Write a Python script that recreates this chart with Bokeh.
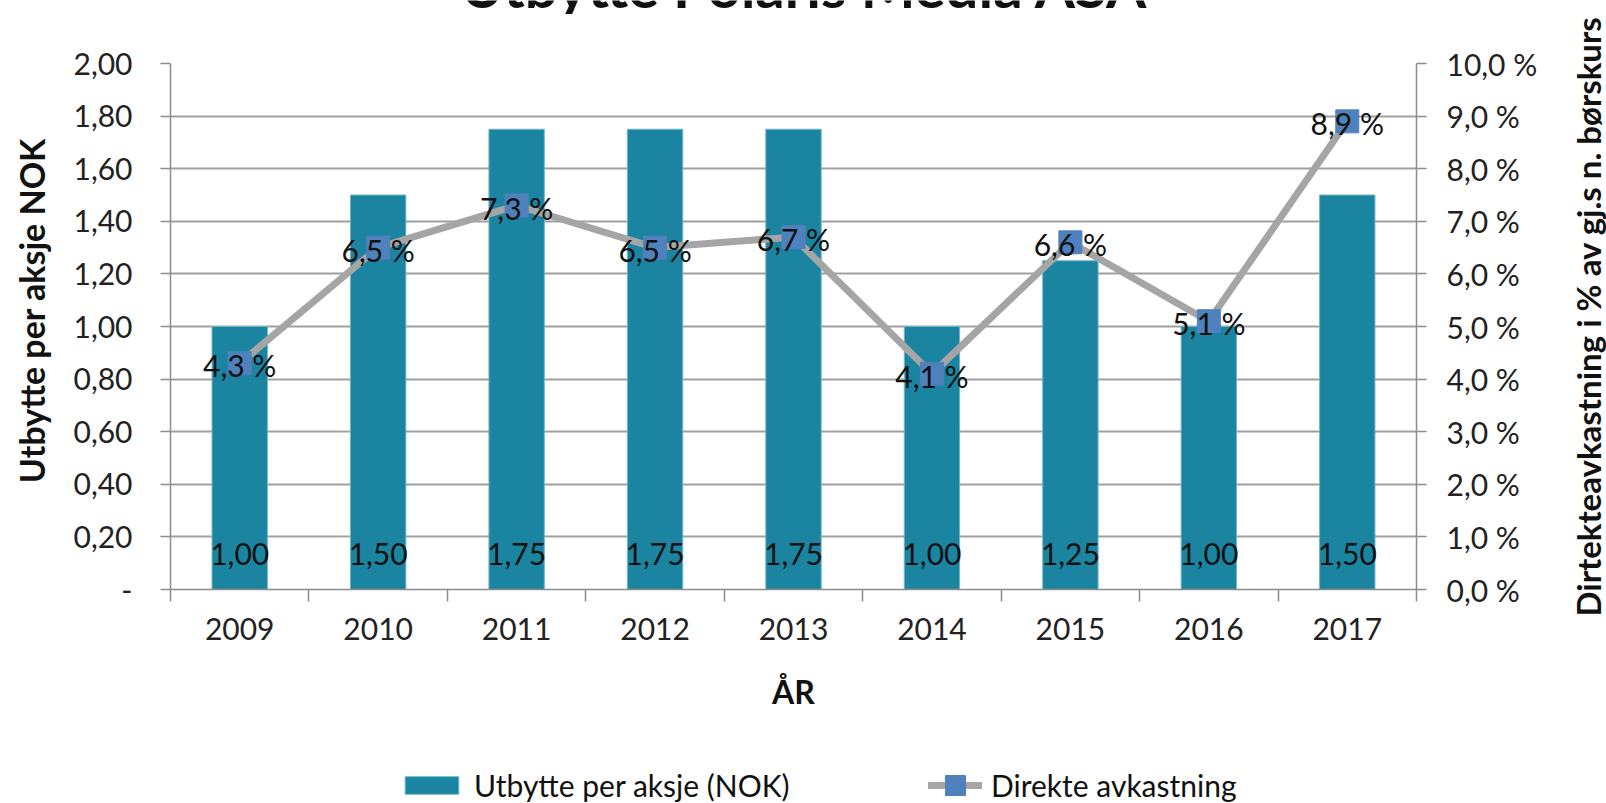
import math
from bokeh.plotting import figure
from bokeh.layouts import column, row
from bokeh.models import (ColumnDataSource, Range1d, LinearAxis, FixedTicker,
                          CustomJSTickFormatter, Legend, LegendItem, Label)
from bokeh.core.properties import value
from bokeh.embed import file_html
from bokeh.resources import INLINE

# ---- data ----
years = ["2009", "2010", "2011", "2012", "2013", "2014", "2015", "2016", "2017"]
dividend = [1.00, 1.50, 1.75, 1.75, 1.75, 1.00, 1.25, 1.00, 1.50]
yield_pct = [4.3, 6.5, 7.3, 6.5, 6.7, 4.1, 6.6, 5.1, 8.9]
left_ticks = [0, 0.2, 0.4, 0.6, 0.8, 1.0, 1.2, 1.4, 1.6, 1.8, 2.0]
right_ticks = [0, 1, 2, 3, 4, 5, 6, 7, 8, 9, 10]

title_text = "Utbytte Polaris Media ASA"
left_title = "Utbytte per aksje NOK"
right_title = "Dirtekteavkastning i % av gj.s n. børskurs"
x_title = "ÅR"
bar_name = "Utbytte per aksje (NOK)"
line_name = "Direkte avkastning"

FONT = "Lato"
BAR_COLOR = "#1B84A0"
BAR_EDGE = "#6FB6CB"
LINE_COLOR = "#A5A5A5"
MARK_COLOR = "#4F81BD"
GRID = "#A0A0A0"
AXIS = "#8C8C8C"
TXT = "#111111"

# ---- layout (pixels, page coordinates) ----
W = 1606
W_LEFT = 60           # strip holding the left axis title
W_RIGHT = 40          # strip holding the right axis title
W_MAIN = W - W_LEFT - W_RIGHT
H_TITLE = 14          # strip holding the (cut-off) title
H_MAIN = 726
H_LEG = 63
FRAME_LEFT, FRAME_RIGHT = 170, 1416
FRAME_TOP, FRAME_BOTTOM = 63, 589
MAIN_BOTTOM = H_TITLE + H_MAIN

xs = [i + 0.5 for i in range(len(years))]
src = ColumnDataSource(dict(
    x=xs, year=years, div=dividend, pct=yield_pct,
    div_lbl=[f"{v:.2f}".replace(".", ",") for v in dividend],
    pct_lbl=[f"{v:.1f} %".replace(".", ",") for v in yield_pct],
))

def strip(width, height, left=0, right=0):
    f = figure(width=width, height=height, output_backend="svg", toolbar_location=None,
               x_range=Range1d(0, 1), y_range=Range1d(10, 11),
               x_axis_type=None, y_axis_type=None, frame_align=False,
               min_border_left=left, min_border_right=right,
               min_border_top=0, min_border_bottom=0)
    f.outline_line_color = None
    f.xgrid.grid_line_color = None
    f.ygrid.grid_line_color = None
    return f

# ---- title strip (title is cut off at the top edge, as in the source image) ----
t = strip(W, H_TITLE, FRAME_LEFT, W - FRAME_RIGHT)
t.add_layout(Label(x=804 - FRAME_LEFT, y=H_TITLE + 15, x_units="screen", y_units="screen",
                   text=title_text, text_align="center", text_baseline="alphabetic",
                   text_font=FONT, text_font_style="bold", text_font_size="58px",
                   text_color=TXT))

# ---- main chart ----
p = figure(width=W_MAIN, height=H_MAIN, output_backend="svg", toolbar_location=None,
           x_range=Range1d(0, len(years)), y_range=Range1d(0, 2.0), frame_align=False,
           min_border_left=FRAME_LEFT - W_LEFT, min_border_right=W - W_RIGHT - FRAME_RIGHT,
           min_border_top=FRAME_TOP - H_TITLE, min_border_bottom=MAIN_BOTTOM - FRAME_BOTTOM)
p.extra_y_ranges = {"pct": Range1d(0, 10)}
p.outline_line_color = None
p.background_fill_color = "white"
p.border_fill_color = "white"

# x axis
xa = p.xaxis[0]
xa.ticker = FixedTicker(ticks=xs, minor_ticks=list(range(len(years) + 1)))
xa.major_label_overrides = {x: y for x, y in zip(xs, years)}
xa.major_tick_line_color = None
xa.minor_tick_in = 0
xa.minor_tick_out = 12
xa.minor_tick_line_color = AXIS
xa.minor_tick_line_width = 1.5
xa.axis_line_color = AXIS
xa.axis_line_width = 1.5
xa.major_label_text_font = FONT
xa.major_label_text_font_size = "30px"
xa.major_label_text_color = "#222222"
xa.major_label_standoff = 16
xa.axis_label = x_title
xa.axis_label_text_font = FONT
xa.axis_label_text_font_style = "bold"
xa.axis_label_text_font_size = "32px"
xa.axis_label_text_color = TXT
xa.axis_label_standoff = 29

# left axis (its title is drawn in the strip to the left)
ya = p.yaxis[0]
ya.ticker = FixedTicker(ticks=left_ticks)
ya.formatter = CustomJSTickFormatter(code="""
    if (Math.abs(tick) < 1e-9) { return "-"; }
    return tick.toFixed(2).replace(".", ",");
""")
ya.minor_tick_line_color = None
ya.major_tick_in = 0
ya.major_tick_out = 10
ya.major_tick_line_color = AXIS
ya.major_tick_line_width = 1.5
ya.axis_line_color = AXIS
ya.axis_line_width = 1.5
ya.major_label_text_font = FONT
ya.major_label_text_font_size = "30px"
ya.major_label_text_color = "#222222"
ya.major_label_standoff = 28

# right axis (its title is drawn in the strip to the right)
ra = LinearAxis(y_range_name="pct")
ra.ticker = FixedTicker(ticks=right_ticks)
ra.formatter = CustomJSTickFormatter(code="""
    return tick.toFixed(1).replace(".", ",") + " %";
""")
ra.minor_tick_line_color = None
ra.major_tick_in = 0
ra.major_tick_out = 10
ra.major_tick_line_color = AXIS
ra.major_tick_line_width = 1.5
ra.axis_line_color = AXIS
ra.axis_line_width = 1.5
ra.major_label_text_font = FONT
ra.major_label_text_font_size = "30px"
ra.major_label_text_color = "#222222"
ra.major_label_standoff = 20
p.add_layout(ra, "right")

# grid
p.xgrid.grid_line_color = None
p.ygrid.ticker = FixedTicker(ticks=left_ticks)
p.ygrid.grid_line_color = GRID
p.ygrid.grid_line_width = 1.8

# bars
bars = p.vbar(x="x", top="div", bottom=0, width=0.4, source=src,
              fill_color=BAR_COLOR, line_color=BAR_EDGE, line_width=1)

# line + markers
line = p.line(x="x", y="pct", source=src, y_range_name="pct",
              line_color=LINE_COLOR, line_width=7, line_join="round", line_cap="round")
marks = p.scatter(x="x", y="pct", source=src, y_range_name="pct", marker="square",
                  size=23, fill_color=MARK_COLOR, line_color=MARK_COLOR)

# data labels
p.text(x="x", y=0, text="div_lbl", source=src, text_align="center",
       text_baseline="middle", y_offset=-36, text_font=value(FONT),
       text_font_size="30px", text_color=TXT)
p.text(x="x", y="pct", text="pct_lbl", source=src, y_range_name="pct",
       text_align="center", text_baseline="middle", y_offset=2,
       text_font=value(FONT), text_font_size="30px", text_color=TXT)

# ---- axis title strips ----
l = strip(W_LEFT, H_MAIN)
l.add_layout(Label(x=31, y=MAIN_BOTTOM - 310, x_units="screen", y_units="screen",
                   text=left_title, angle=math.pi / 2, text_align="center",
                   text_baseline="middle", text_font=FONT, text_font_style="bold",
                   text_font_size="34px", text_color=TXT))
r = strip(W_RIGHT, H_MAIN)
r.add_layout(Label(x=21, y=MAIN_BOTTOM - 316, x_units="screen", y_units="screen",
                   text=right_title, angle=math.pi / 2, text_align="center",
                   text_baseline="middle", text_font=FONT, text_font_style="bold",
                   text_font_size="33px", text_color=TXT))

# ---- legend strip (its renderers lie outside its visible y range) ----
q = strip(W, H_LEG, FRAME_LEFT, W - FRAME_RIGHT)
lb = q.vbar(x="x", top="div", width=0.4, source=src, fill_color=BAR_COLOR,
            line_color=BAR_EDGE, line_width=1)
ll = q.line(x="x", y="pct", source=src, line_color=LINE_COLOR, line_width=7, line_cap="round")
lm = q.scatter(x="x", y="pct", source=src, marker="square", size=23,
               fill_color=MARK_COLOR, line_color=MARK_COLOR)

common = dict(orientation="horizontal", label_text_font=FONT, label_text_font_size="30px",
              label_text_color=TXT, label_standoff=9,
              padding=0, margin=0, border_line_color=None, background_fill_alpha=0)
leg1 = Legend(items=[LegendItem(label=bar_name, renderers=[lb])],
              location=(398 - FRAME_LEFT, 0), glyph_width=67, glyph_height=22, **common)
leg2 = Legend(items=[LegendItem(label=line_name, renderers=[ll, lm])],
              location=(928 - FRAME_LEFT, -7), glyph_width=54, glyph_height=50, **common)
q.add_layout(leg1, "center")
q.add_layout(leg2, "center")

open("out.html", "w").write(file_html(column(t, row(l, p, r, spacing=0), q, spacing=0), INLINE))
